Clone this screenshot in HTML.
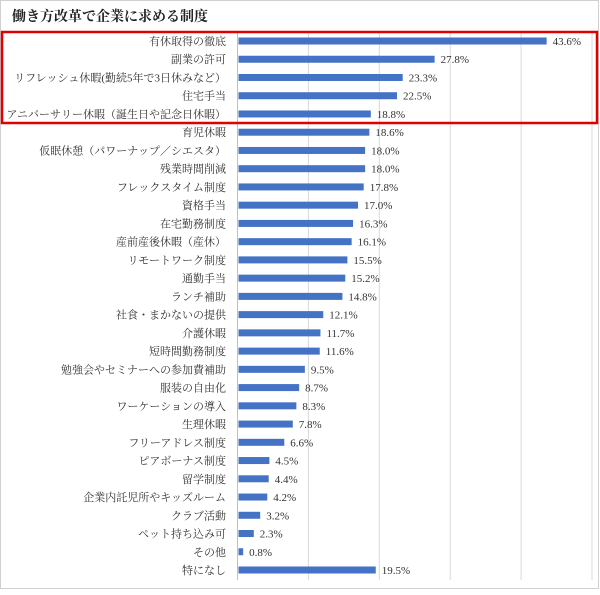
<!DOCTYPE html>
<html><head><meta charset="utf-8">
<style>
body{margin:0;background:#fff;}
svg text{font-family:"Liberation Serif","Noto Serif CJK SC",serif;}
</style></head>
<body>
<svg id="chart" width="600" height="590" xmlns="http://www.w3.org/2000/svg">
<rect x="0.5" y="0.5" width="598" height="588" fill="#fff" stroke="#d0d0d0"/>
<text x="12" y="21" font-size="14" font-weight="bold" fill="#222">働き方改革で企業に求める制度</text>
<g id="grid"></g>
<g id="bars"></g>
<rect x="2" y="32" width="595" height="91" fill="none" stroke="#e00000" stroke-width="2.5"/>
</svg>
<script>
const categories=["有休取得の徹底","副業の許可","リフレッシュ休暇(勤続5年で3日休みなど）","住宅手当","アニバーサリー休暇（誕生日や記念日休暇）","育児休暇","仮眠休憩（パワーナップ／シエスタ）","残業時間削減","フレックスタイム制度","資格手当","在宅勤務制度","産前産後休暇（産休）","リモートワーク制度","通勤手当","ランチ補助","社食・まかないの提供","介護休暇","短時間勤務制度","勉強会やセミナーへの参加費補助","服装の自由化","ワーケーションの導入","生理休暇","フリーアドレス制度","ピアボーナス制度","留学制度","企業内託児所やキッズルーム","クラブ活動","ペット持ち込み可","その他","特になし"];
const values=[43.6,27.8,23.3,22.5,18.8,18.6,18.0,18.0,17.8,17.0,16.3,16.1,15.5,15.2,14.8,12.1,11.7,11.6,9.5,8.7,8.3,7.8,6.6,4.5,4.4,4.2,3.2,2.3,0.8,19.5];
const gridTicks=[0,10,20,30,40,50];
const NS="http://www.w3.org/2000/svg";
const x0=237.5,xMax=592,vMax=50,y0=41,step=(570-41)/29;
const xs=v=>x0+(xMax-x0)*v/vMax;
const ys=i=>y0+step*i;
const grid=document.getElementById('grid'),bars=document.getElementById('bars');
gridTicks.forEach(t=>{
  const l=document.createElementNS(NS,'line');
  
  
  l.setAttribute('x1',xs(t));l.setAttribute('x2',xs(t));
  l.setAttribute('y1',33);l.setAttribute('y2',580);
  l.setAttribute('stroke',t===0?'#bfbfbf':'#d9d9d9');
  grid.appendChild(l);
});
categories.forEach((c,i)=>{
  const y=ys(i);
  const lab=document.createElementNS(NS,'text');
  
  
  lab.setAttribute('x',226);lab.setAttribute('y',y+4);
  lab.setAttribute('text-anchor','end');lab.setAttribute('font-size','11');lab.setAttribute('fill','#333');
  lab.textContent=c;bars.appendChild(lab);
  const r=document.createElementNS(NS,'rect');
  
  
  r.setAttribute('x',x0+1);r.setAttribute('y',y-3.5);
  r.setAttribute('width',xs(values[i])-x0-1);r.setAttribute('height',7);
  r.setAttribute('fill','#4472c4');bars.appendChild(r);
  const v=document.createElementNS(NS,'text');
  
  
  v.setAttribute('x',xs(values[i])+6);v.setAttribute('y',y+4);
  v.setAttribute('font-size','11');v.setAttribute('fill','#333');
  v.textContent=values[i].toFixed(1)+'%';bars.appendChild(v);
});
</script>
</body></html>
